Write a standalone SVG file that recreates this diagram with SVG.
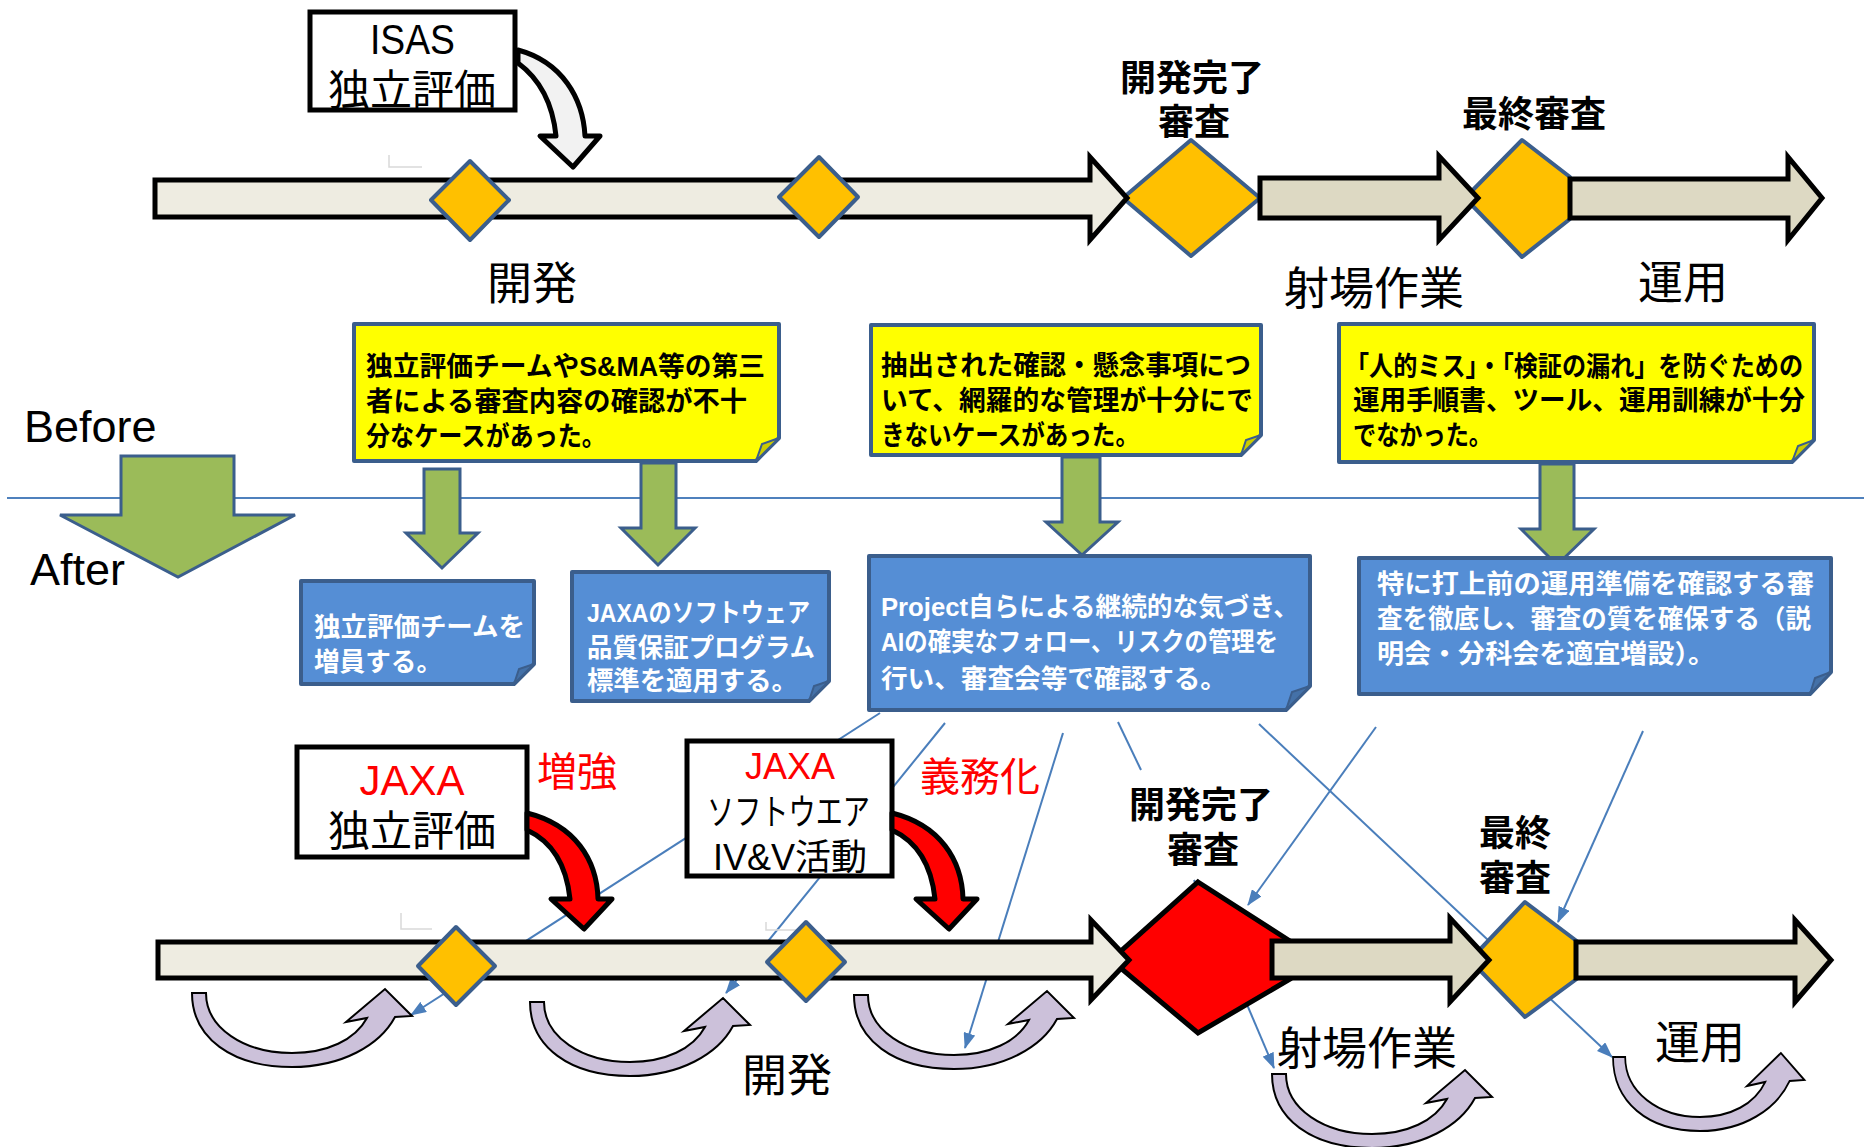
<svg xmlns="http://www.w3.org/2000/svg" width="1864" height="1147" viewBox="0 0 1864 1147">
<defs>
<style>
.t{font-family:"Liberation Sans","Noto Sans CJK JP",sans-serif;}
.lbl{font-size:45px;fill:#000;text-anchor:middle}
.blbl{font-size:36px;font-weight:bold;fill:#000;text-anchor:middle}
.note{font-size:27px;font-weight:bold;fill:#000}
.btxt{font-size:26px;font-weight:bold;fill:#fff}
.red{fill:#FF0000}
.bar1{fill:#EEECE1;stroke:#000;stroke-width:5}
.bar2{fill:#DDD9C3;stroke:#000;stroke-width:5}
.dia{fill:#FFC000;stroke:#3B5E8C;stroke-width:4;stroke-linejoin:round}
.rdia{fill:#FF0000;stroke:#000;stroke-width:5}
.yel{fill:#FFFF00;stroke:#3B5E8C;stroke-width:4;stroke-linejoin:round}
.yfold{fill:#CCCC00;stroke:#3B5E8C;stroke-width:2}
.blu{fill:#558ED5;stroke:#3B5E8C;stroke-width:4;stroke-linejoin:round}
.bfold{fill:#4471A8;stroke:#3B5E8C;stroke-width:2}
.grn{fill:#9BBB59;stroke:#3B5E8C;stroke-width:3}
.box{fill:#fff;stroke:#000;stroke-width:5}
.rarr{fill:#FF0000;stroke:#000;stroke-width:5;stroke-linejoin:round}
.garr{fill:#F2F2F2;stroke:#000;stroke-width:5;stroke-linejoin:round}
.pur{fill:#CCC1DA;stroke:#000;stroke-width:2}
.conn{fill:none;stroke:#4A7EBB;stroke-width:2}
.faint{fill:none;stroke:#d9d9d9;stroke-width:1.5}
.sep{stroke:#4F81BD;stroke-width:2}
</style>
<marker id="ah" markerUnits="userSpaceOnUse" markerWidth="16" markerHeight="12" refX="15" refY="6" orient="auto"><path d="M0,0 L16,6 L0,12 Z" fill="#4A7EBB"/></marker>
<path id="purple" d="M0,0 C0,45 40,74 100,74 C150,74 188,52 203,24 L220,23 L193,-4 L154,29 L175,25 C163,47 135,60 100,60 C52,60 14,35 14,0 Z"/>
<path id="redarrow" d="M527,813 C575,825 597,860 598,899 L612,899 L584,929 L551,899 L570,899 C567,870 555,843 527,830 Z"/>
</defs>
<rect width="1864" height="1147" fill="#fff"/>

<!-- connectors -->
<g id="connectors">
<line class="sep" x1="7" y1="498" x2="1864" y2="498"/>
<path class="conn" d="M880,713 L411,1015" marker-end="url(#ah)"/>
<path class="conn" d="M945,723 L726,993" marker-end="url(#ah)"/>
<path class="conn" d="M1063,733 L965,1048" marker-end="url(#ah)"/>
<path class="conn" d="M1118,722 L1141,770"/>
<path class="conn" d="M1194,880 L1274,1068" marker-end="url(#ah)"/>
<path class="conn" d="M1259,724 L1612,1057" marker-end="url(#ah)"/>
<path class="conn" d="M1376,727 L1248,905" marker-end="url(#ah)"/>
<path class="conn" d="M1643,731 L1558,922" marker-end="url(#ah)"/>
</g>

<!-- top timeline -->
<g id="isas">
<rect class="box" x="310" y="12" width="205" height="98"/>
<text class="t" x="370" y="54" font-size="42" textLength="85" lengthAdjust="spacingAndGlyphs">ISAS</text>
<text class="t" x="412" y="105" font-size="42" text-anchor="middle">独立評価</text>
</g>
<path id="isas-arrow" class="garr" d="M518,50 C562,62 583,98 585,136 L600,136 L573,167 L540,136 L556,136 C553,106 541,80 518,63 Z"/>
<path class="faint" d="M389,155 V167 H422"/>
<g id="top-dr">
<polygon class="dia" points="1191,140 1260,198 1191,256 1123,198"/>
</g>
<g id="top-fr">
<polygon class="dia" points="1522,140 1570,177 1570,219 1522,257 1465,198"/>
</g>
<g id="top-dev">
<polygon class="bar1" points="155,180 1090,180 1090,157 1127,198 1090,240 1090,217 155,217"/>
</g>
<g id="top-launch">
<polygon class="bar2" points="1260,178 1439,178 1439,156 1478,198 1439,240 1439,218 1260,218"/>
</g>
<g id="top-ops">
<polygon class="bar2" points="1570,179 1788,179 1788,157 1822,198 1788,240 1788,218 1570,218"/>
</g>
<g id="top-m1"><polygon class="dia" points="470,161 509,200 470,240 431,200"/></g>
<g id="top-m2"><polygon class="dia" points="819,157 858,197 819,237 779,197"/></g>
<g id="top-labels" class="t">
<text class="lbl" x="532" y="300">開発</text>
<text class="blbl" x="1192" y="91">開発完了</text>
<text class="blbl" x="1194" y="135">審査</text>
<text class="blbl" x="1534" y="127">最終審査</text>
<text class="lbl" x="1374" y="305" font-size="46">射場作業</text>
<text class="lbl" x="1683" y="299">運用</text>
</g>

<!-- before / after -->
<g id="before-after">
<text class="t" x="24" y="442" font-size="45">Before</text>
<text class="t" x="30" y="585" font-size="45">After</text>
<polygon class="grn" points="121,456 234,456 234,515 295,515 178,577 60,515 121,515"/>
</g>

<!-- yellow notes -->
<g id="note1">
<path class="yel" d="M354,324 H779 V438 L756,461 H354 Z"/>
<polygon class="yfold" points="779,438 756,461 762,444"/>
<text class="t note" x="366" y="376" textLength="399" lengthAdjust="spacingAndGlyphs">独立評価チームやS&amp;MA等の第三</text>
<text class="t note" x="366" y="411" textLength="381" lengthAdjust="spacingAndGlyphs">者による審査内容の確認が不十</text>
<text class="t note" x="366" y="446" textLength="240" lengthAdjust="spacingAndGlyphs">分なケースがあった。</text>
</g>
<g id="note2">
<path class="yel" d="M871,325 H1261 V435 L1241,455 H871 Z"/>
<polygon class="yfold" points="1261,435 1241,455 1246,440"/>
<text class="t note" x="881" y="375" textLength="370" lengthAdjust="spacingAndGlyphs">抽出された確認・懸念事項につ</text>
<text class="t note" x="881" y="410" textLength="372" lengthAdjust="spacingAndGlyphs">いて、網羅的な管理が十分にで</text>
<text class="t note" x="881" y="445" textLength="258" lengthAdjust="spacingAndGlyphs">きないケースがあった。</text>
</g>
<g id="note3">
<path class="yel" d="M1339,324 H1814 V440 L1792,462 H1339 Z"/>
<polygon class="yfold" points="1814,440 1792,462 1798,446"/>
<text class="t note" x="1345" y="376" textLength="458" lengthAdjust="spacingAndGlyphs">「人的ミス」・「検証の漏れ」を防ぐための</text>
<text class="t note" x="1353" y="410" textLength="452" lengthAdjust="spacingAndGlyphs">運用手順書、ツール、運用訓練が十分</text>
<text class="t note" x="1353" y="445" textLength="139" lengthAdjust="spacingAndGlyphs">でなかった。</text>
</g>

<!-- green arrows -->
<g id="g-arrows">
<polygon class="grn" points="424,469 460,469 460,533 478,533 442,568 406,533 424,533"/>
<polygon class="grn" points="641,463 676,463 676,528 695,528 658,565 621,528 641,528"/>
<polygon class="grn" points="1062,457 1100,457 1100,522 1118,522 1082,555 1046,522 1062,522"/>
<polygon class="grn" points="1540,464 1574,464 1574,529 1594,529 1557,565 1521,529 1540,529"/>
</g>

<!-- blue boxes -->
<g id="blue1">
<path class="blu" d="M301,581 H534 V664 L514,684 H301 Z"/>
<polygon class="bfold" points="534,664 514,684 519,669"/>
<text class="t btxt" x="314" y="636" textLength="211" lengthAdjust="spacingAndGlyphs">独立評価チームを</text>
<text class="t btxt" x="314" y="671" textLength="128" lengthAdjust="spacingAndGlyphs">増員する。</text>
</g>
<g id="blue2">
<path class="blu" d="M572,572 H829 V681 L809,701 H572 Z"/>
<polygon class="bfold" points="829,681 809,701 814,686"/>
<text class="t btxt" x="587" y="622" textLength="223" lengthAdjust="spacingAndGlyphs">JAXAのソフトウェア</text>
<text class="t btxt" x="587" y="657" textLength="228" lengthAdjust="spacingAndGlyphs">品質保証プログラム</text>
<text class="t btxt" x="587" y="690" textLength="211" lengthAdjust="spacingAndGlyphs">標準を適用する。</text>
</g>
<g id="blue3">
<path class="blu" d="M869,556 H1310 V686 L1286,710 H869 Z"/>
<polygon class="bfold" points="1310,686 1286,710 1292,692"/>
<text class="t btxt" x="881" y="616" textLength="418" lengthAdjust="spacingAndGlyphs">Project自らによる継続的な気づき、</text>
<text class="t btxt" x="881" y="651" textLength="397" lengthAdjust="spacingAndGlyphs">AIの確実なフォロー、リスクの管理を</text>
<text class="t btxt" x="881" y="688" textLength="346" lengthAdjust="spacingAndGlyphs">行い、審査会等で確認する。</text>
</g>
<g id="blue4">
<path class="blu" d="M1359,558 H1831 V672 L1810,694 H1359 Z"/>
<polygon class="bfold" points="1831,672 1810,694 1815,678"/>
<text class="t btxt" x="1377" y="593" textLength="437" lengthAdjust="spacingAndGlyphs">特に打上前の運用準備を確認する審</text>
<text class="t btxt" x="1377" y="628" textLength="434" lengthAdjust="spacingAndGlyphs">査を徹底し、審査の質を確保する（説</text>
<text class="t btxt" x="1377" y="663" textLength="338" lengthAdjust="spacingAndGlyphs">明会・分科会を適宜増設）。</text>
</g>

<!-- bottom timeline -->
<g id="jaxa-iv">
<rect class="box" x="297" y="747" width="230" height="110"/>
<text class="t red" x="412" y="795" font-size="42" text-anchor="middle">JAXA</text>
<text class="t" x="412" y="846" font-size="42" text-anchor="middle">独立評価</text>
</g>
<text class="t red" x="577" y="786" font-size="40" text-anchor="middle">増強</text>
<use href="#redarrow" class="rarr"/>
<g id="jaxa-ivv">
<rect class="box" x="687" y="741" width="205" height="135"/>
<text class="t red" x="790" y="779" font-size="36" text-anchor="middle">JAXA</text>
<text class="t" x="707" y="825" font-size="36" textLength="163" lengthAdjust="spacingAndGlyphs">ソフトウエア</text>
<text class="t" x="790" y="870" font-size="36" text-anchor="middle">IV&amp;V活動</text>
</g>
<text class="t red" x="980" y="791" font-size="40" text-anchor="middle">義務化</text>
<use href="#redarrow" class="rarr" transform="translate(365,0)"/>
<path class="faint" d="M401,913 V929 H432"/>
<path class="faint" d="M766,922 V930 H796"/>

<g id="bot-dr"><polygon class="rdia" points="1198,882 1290,941 1290,979 1198,1033 1111,960"/></g>
<g id="bot-fr"><polygon class="dia" points="1525,902 1578,942 1578,978 1525,1017 1470,960"/></g>
<g id="bot-dev"><polygon class="bar1" points="158,942 1091,942 1091,920 1129,960 1091,1000 1091,978 158,978"/></g>
<g id="bot-launch"><polygon class="bar2" points="1272,941 1450,941 1450,918 1489,960 1450,1002 1450,978 1272,978"/></g>
<g id="bot-ops"><polygon class="bar2" points="1576,942 1795,942 1795,920 1831,960 1795,1002 1795,978 1576,978"/></g>
<g id="bot-m1"><polygon class="dia" points="456,927 495,966 456,1005 418,966"/></g>
<g id="bot-m2"><polygon class="dia" points="806,922 845,962 806,1001 767,962"/></g>

<g id="loops">
<use href="#purple" class="pur" transform="translate(192,993)"/>
<use href="#purple" class="pur" transform="translate(530,1002)"/>
<use href="#purple" class="pur" transform="translate(854,995)"/>
<use href="#purple" class="pur" transform="translate(1272,1074)"/>
<use href="#purple" class="pur" transform="translate(1613,1057) scale(0.87,1)"/>
</g>

<g id="bot-labels" class="t">
<text class="lbl" x="787" y="1092" font-size="44">開発</text>
<text class="blbl" x="1201" y="818">開発完了</text>
<text class="blbl" x="1203" y="863">審査</text>
<text class="blbl" x="1515" y="846">最終</text>
<text class="blbl" x="1515" y="891">審査</text>
<text class="lbl" x="1367" y="1065" font-size="46">射場作業</text>
<text class="lbl" x="1700" y="1059">運用</text>
</g>
</svg>
